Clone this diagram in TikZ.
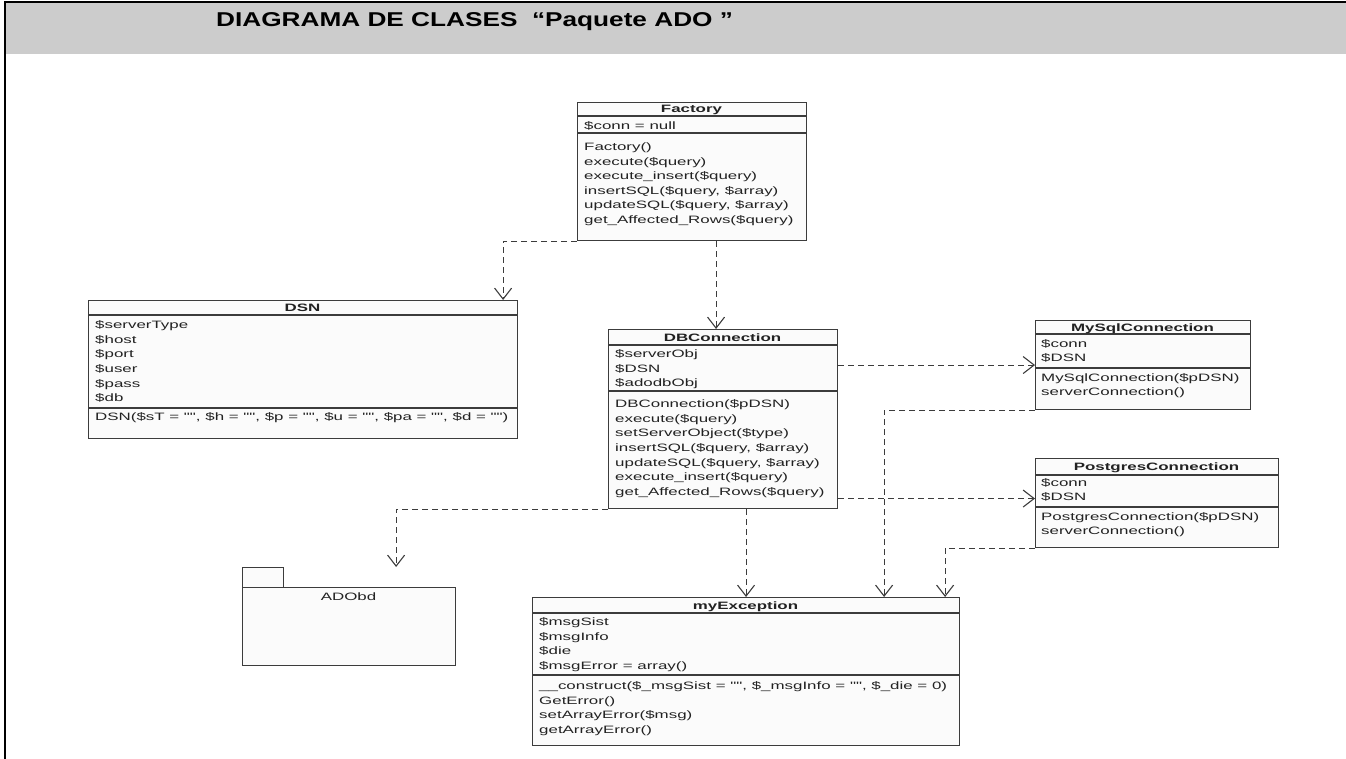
\documentclass[tikz,border=0pt]{standalone}
\usepackage{fontspec}
\setmainfont{Liberation Sans}
\newfontfamily\umlfont[FakeStretch=1.58]{Liberation Sans}
\newfontfamily\headfont[FakeStretch=1.31]{Liberation Sans}
\usepackage{xcolor}
\usetikzlibrary{arrows.meta,calc}
\definecolor{umlline}{HTML}{3C3C3C}
\definecolor{umlfill}{HTML}{FBFBFB}
\definecolor{umltext}{HTML}{222222}
\definecolor{hdrgray}{HTML}{CCCCCC}
\tikzset{
    dep/.style={draw=umlline, line width=1.1pt, dash pattern=on 6pt off 4pt,
                -{Straight Barb[length=11pt, width=17pt, line width=1.1pt]}},
    divider/.style={draw=umlline, line width=1.1pt}
}

\begin{document}
\begin{tikzpicture}[
    x=1pt, y=-1pt,
    classbox/.style={
        rectangle,
        draw=umlline,
        fill=umlfill,
        line width=1.1pt,
        inner sep=0pt,
        anchor=north west
    },
    classname/.style={
        anchor=base,
        inner sep=0pt,
        text=umltext,
        font=\umlfont\bfseries\fontsize{10.7}{14.6}\selectfont
    },
    member/.style={
        anchor=north west,
        inner sep=0pt,
        align=left,
        text=umltext,
        execute at begin node=\strut,
        font=\umlfont\fontsize{10.7}{14.6}\selectfont
    },
    pkg/.style={
        rectangle,
        draw=umlline,
        fill=umlfill,
        line width=1.1pt,
        inner sep=0pt,
        anchor=north west
    }
]
\useasboundingbox (0,0) rectangle (1346,759);

% === HEADER ===
\fill[hdrgray] (6,3) rectangle (1346,54);
\draw[black, line width=2pt] (5,759) -- (5,2.5) -- (1346,2.5);
\node[anchor=base west, inner sep=0pt, font=\headfont\bfseries\fontsize{20}{24}\selectfont]
    (title) at (216,27) {DIAGRAMA DE CLASES\ \ “Paquete ADO ”};

% === CLASSES ===
% member texts: top of node = first baseline - 10.2

% Factory
\node[classbox, minimum width=229pt, minimum height=138pt] (factory) at (577,102) {};
\draw[divider] (577,116) -- (806,116);
\draw[divider] (577,133) -- (806,133);
\node[classname] (factoryname) at (691.5,113) {Factory};
\node[member] (factoryattr) at (584,119.5) {\$conn = null};
\node[member] (factoryops) at (584,142.5) {Factory()\\execute(\$query)\\execute\_insert(\$query)\\insertSQL(\$query, \$array)\\updateSQL(\$query, \$array)\\get\_Affected\_Rows(\$query)};

% DSN
\node[classbox, minimum width=429pt, minimum height=138pt] (dsn) at (88,300) {};
\draw[divider] (88,315) -- (517,315);
\draw[divider] (88,408) -- (517,408);
\node[classname] (dsnname) at (302.5,311.5) {DSN};
\node[member] (dsnattr) at (95,320.5) {\$serverType\\\$host\\\$port\\\$user\\\$pass\\\$db};
\node[member] (dsnops) at (95,410.5) {DSN(\$sT = "", \$h = "", \$p = "", \$u = "", \$pa = "", \$d = "")};

% DBConnection
\node[classbox, minimum width=229pt, minimum height=179pt] (dbconn) at (608,329) {};
\draw[divider] (608,345) -- (837,345);
\draw[divider] (608,391) -- (837,391);
\node[classname] (dbconnname) at (722.5,341) {DBConnection};
\node[member] (dbconnattr) at (615,349.5) {\$serverObj\\\$DSN\\\$adodbObj};
\node[member] (dbconnops) at (615,399.5) {DBConnection(\$pDSN)\\execute(\$query)\\setServerObject(\$type)\\insertSQL(\$query, \$array)\\updateSQL(\$query, \$array)\\execute\_insert(\$query)\\get\_Affected\_Rows(\$query)};

% MySqlConnection
\node[classbox, minimum width=215pt, minimum height=89pt] (mysql) at (1035,320) {};
\draw[divider] (1035,334) -- (1250,334);
\draw[divider] (1035,368) -- (1250,368);
\node[classname] (mysqlname) at (1142.5,331) {MySqlConnection};
\node[member] (mysqlattr) at (1041,339) {\$conn\\\$DSN};
\node[member] (mysqlops) at (1041,373) {MySqlConnection(\$pDSN)\\serverConnection()};

% PostgresConnection
\node[classbox, minimum width=243pt, minimum height=89pt] (postgres) at (1035,458) {};
\draw[divider] (1035,475) -- (1278,475);
\draw[divider] (1035,507) -- (1278,507);
\node[classname] (postgresname) at (1156.5,470) {PostgresConnection};
\node[member] (postgresattr) at (1041,478) {\$conn\\\$DSN};
\node[member] (postgresops) at (1041,512) {PostgresConnection(\$pDSN)\\serverConnection()};

% myException
\node[classbox, minimum width=427pt, minimum height=148pt] (myexc) at (532,597) {};
\draw[divider] (532,613) -- (959,613);
\draw[divider] (532,675) -- (959,675);
\node[classname] (myexcname) at (745.5,609) {myException};
\node[member] (myexcattr) at (539,617.5) {\$msgSist\\\$msgInfo\\\$die\\\$msgError = array()};
\node[member] (myexcops) at (539,681.5) {\_\_construct(\$\_msgSist = "", \$\_msgInfo = "", \$\_die = 0)\\GetError()\\setArrayError(\$msg)\\getArrayError()};

% Package ADObd
\node[pkg, minimum width=41pt, minimum height=20pt] (adotab) at (242,567) {};
\node[pkg, minimum width=213pt, minimum height=78pt] (adobd) at (242,587) {};
\node[classname, font=\umlfont\fontsize{10.7}{14.6}\selectfont] (adoname) at (348.5,600) {ADObd};

% === DEPENDENCIES ===

% 1. Factory to DSN
\draw[dep] (factory.south west) -| ([xshift=-15pt]dsn.north east);

% 2. Factory to DBConnection
\draw[dep] ([xshift=-7pt]dbconn.north |- factory.south) -- ([xshift=-7pt]dbconn.north);

% 3. DBConnection to MySqlConnection
\draw[dep] (dbconn.east |- mysql.west) -- (mysql.west);

% 4. DBConnection to PostgresConnection
\draw[dep] ([yshift=4.5pt]dbconn.east |- postgres.west) -- ([yshift=4.5pt]postgres.west);

% 5. DBConnection to ADObd
\draw[dep] (dbconn.south west) -| ([shift={(-60pt,20pt)}]adobd.north east);

% 6. DBConnection to myException
\draw[dep] (myexc.north |- dbconn.south) -- (myexc.north);

% 7. MySqlConnection to myException
\draw[dep] (mysql.south west) -| ([xshift=-76pt]myexc.north east);

% 8. PostgresConnection to myException
\draw[dep] (postgres.south west) -| ([xshift=-15pt]myexc.north east);

\end{tikzpicture}
\end{document}
